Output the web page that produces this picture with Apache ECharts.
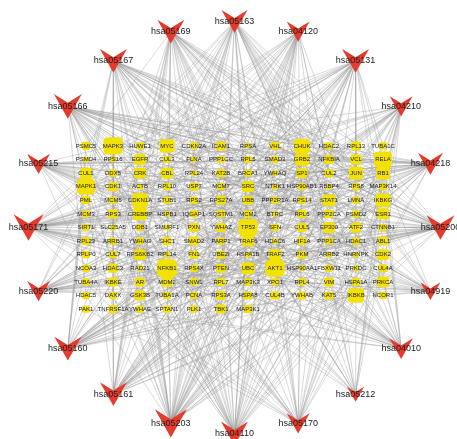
<!DOCTYPE html>
<html>
<head>
<meta charset="utf-8">
<script src="https://cdn.jsdelivr.net/npm/echarts@6/dist/echarts.min.js"></script>
<style>
  html, body { margin: 0; padding: 0; background: #ffffff; }
  #chart { width: 457px; height: 439px; }
</style>
</head>
<body>
<div id="chart"></div>
<script>
// Hub genes, laid out row by row in the central block
const geneRows = [
  ['PSMC5','MAPK3','HUWE1','MYC','CDKN2A','ICAM1','RPSA','VHL','CHUK','HDAC2','RPL13','TUBA1C'],
  ['PSMD4','RPS16','EGFR','CUL3','FLNA','PPP1CC','RPL5','SMAD3','GRB2','NFKBIA','VCL','RELA'],
  ['CUL1','DDX5','CRK','CBL','RPL24','KAT2B','BRCA1','YWHAQ','SP1','CUL2','JUN','RB1'],
  ['MAPK1','CDK1','ACTB','RPL10','USP7','MCM7','SRC','NTRK1','HSP90AB1','RBBP4','RPS8','MAP3K14'],
  ['PML','MCM5','CDKN1A','STUB1','RPS2','RPS27A','UBB','PPP2R1A','RPS14','STAT1','LMNA','IKBKG'],
  ['MCM3','RPS3','CREBBP','HSPB1','IQGAP1','SQSTM1','MCM2','BTRC','RPL6','PPP2CA','PSMD2','ESR1'],
  ['SIRT1','SLC25A5','DDB1','SMURF1','PXN','YWHAZ','TP53','SFN','CUL5','EP300','ATF2','CTNNB1'],
  ['RPL23','ARRB1','YWHAG','SHC1','SMAD2','PARP1','TRAF6','HDAC6','HIF1A','PPP1CA','HDAC1','ABL1'],
  ['RPLP0','CUL7','RPS6KB2','RPL14','FN1','UBE2I','HSPA1B','TRAF2','PKM','ARRB2','HNRNPK','CDK2'],
  ['NCOA3','HDAC3','RAD21','NFKB1','RPS4X','PTEN','UBC','AKT1','HSP90AA1','FBXW11','PRKDC','CUL4A'],
  ['TUBA4A','IKBKE','AR','MDM2','SNW1','RPL7','MAP3K3','XPO1','RPL4','VIM','HSPA1A','PRKCA'],
  ['HDAC5','DAXX','GSK3B','TUBA1A','PCNA','RPS3A','HSPA8','CUL4B','YWHAB','KAT5','IKBKB','NCOR1'],
  ['PAK1','TNFRSF1A','YWHAE','SPTAN1','PLK1','TBK1','MAP3K1']
];

// Interaction degree of each hub gene (same order as geneRows)
const geneDegree = [
  [10,30,8,22,8,12,4,10,24,8,12,8],
  [4,4,16,8,4,8,8,8,20,12,14,28],
  [16,8,16,16,4,10,8,4,14,10,20,20],
  [28,12,4,8,10,8,16,4,8,4,8,8],
  [10,8,24,8,8,12,12,8,8,18,8,22],
  [8,12,20,4,8,8,8,4,10,10,8,16],
  [8,4,8,4,12,12,30,8,12,16,14,8],
  [10,8,8,10,12,8,16,4,10,8,8,12],
  [8,8,16,4,10,10,4,16,10,4,4,16],
  [8,12,4,32,8,12,18,30,4,8,4,10],
  [8,12,12,14,8,10,8,8,8,12,10,16],
  [8,8,14,8,8,12,10,10,10,10,24,8],
  [8,10,8,8,8,12,10]
];

// KEGG pathways, clockwise from the top of the ring
const pathwayIds = ['hsa05163','hsa04120','hsa05131','hsa04210','hsa04218','hsa05200','hsa04919',
  'hsa04010','hsa05212','hsa05170','hsa04110','hsa05203','hsa05161','hsa05160','hsa05220',
  'hsa05171','hsa05215','hsa05166','hsa05167','hsa05169'];

// Member genes of each pathway
const hsa05163 = ['MAPK1','MAPK3','RELA','NFKB1','NFKBIA','CHUK','IKBKB','IKBKG','TP53','MDM2','CDKN2A','CDKN1A','RB1','CDK1','CDK2','AKT1','GSK3B','CTNNB1','SRC','PXN','PTEN','CREBBP','EP300','TRAF2','TRAF6','TNFRSF1A','PRKCA','MYC','ATF2','JUN','SP1','STAT1','GRB2','SHC1','CRK','TBK1'];
const hsa04120 = ['CUL1','CUL2','CUL3','CUL4A','CUL4B','CUL5','CUL7','VHL','MDM2','HUWE1','BTRC','FBXW11','DDB1','SMURF1','STUB1','UBE2I','CBL','PML','TRAF6','BRCA1','UBB','UBC','RPS27A','TP53','SMAD2','SMAD3','IKBKB','CDK1','PCNA','SQSTM1'];
const hsa05131 = ['ACTB','CRK','CBL','SRC','ABL1','VCL','PXN','IQGAP1','RELA','NFKB1','NFKBIA','CHUK','IKBKB','IKBKG','TRAF2','TRAF6','MAPK1','MAPK3','JUN','TNFRSF1A','UBB','UBC','RPS27A','BTRC','FBXW11','CUL1','TBK1','IKBKE','FLNA','TUBA1A','TUBA1C','TUBA4A','PKM','ATF2','MAP3K3','HSP90AA1','HSP90AB1','CDK1'];
const hsa04210 = ['TP53','AKT1','RELA','NFKB1','NFKBIA','CHUK','IKBKB','IKBKG','TRAF2','TNFRSF1A','MAPK1','MAPK3','JUN','PARP1','TUBA1A','TUBA1C','TUBA4A','ACTB','SPTAN1','MAP3K14','ATF2','LMNA','CDK1','PTEN','PRKCA','MAP3K1','DAXX','CTNNB1','HSPA1A','XPO1'];
const hsa04218 = ['TP53','MDM2','CDKN2A','CDKN1A','CDK1','CDK2','RB1','MYC','MAPK1','MAPK3','RELA','NFKB1','NFKBIA','CHUK','IKBKB','IKBKG','SIRT1','PML','SMAD2','SMAD3','PTEN','AKT1','PPP1CA','PPP1CC','PPP2CA','PPP2R1A','HDAC1','HDAC2','RBBP4','MAP3K1','SP1','CREBBP','EP300','ESR1'];
const hsa05200 = ['MAPK1','MAPK3','AKT1','GSK3B','CTNNB1','TP53','MDM2','CDKN2A','CDKN1A','CDK2','RB1','MYC','JUN','EGFR','GRB2','RELA','NFKB1','NFKBIA','CHUK','IKBKB','IKBKG','TRAF2','TRAF6','TNFRSF1A','STAT1','HIF1A','VHL','CUL2','SMAD2','SMAD3','CREBBP','EP300','HDAC1','HDAC2','PTEN','PRKCA','HSP90AA1','AR','FN1','ABL1'];
const hsa04919 = ['MAPK1','MAPK3','AKT1','CTNNB1','GSK3B','HDAC1','HDAC2','HDAC3','NCOA3','NCOR1','CREBBP','EP300','MYC','TP53','MDM2','SRC','PRKCA','HIF1A','ESR1','KAT2B','PLK1','STAT1','RB1','PTEN'];
const hsa04010 = ['MAPK1','MAPK3','MAP3K1','MAP3K3','MAP3K14','GRB2','EGFR','JUN','ATF2','MYC','RELA','NFKB1','CHUK','IKBKB','IKBKG','TRAF2','TRAF6','TNFRSF1A','PRKCA','AKT1','PAK1','CRK','FLNA','HSPB1','HSPA1A','HSPA1B','HSPA8','ARRB1','ARRB2','NTRK1','TP53'];
const hsa05212 = ['MAPK1','MAPK3','AKT1','TP53','CDKN2A','RB1','RELA','NFKB1','CHUK','IKBKB','IKBKG','EGFR','SMAD2','SMAD3','STAT1','BRCA1','CDK2','GRB2'];
const hsa05170 = ['RELA','NFKB1','NFKBIA','CHUK','IKBKB','IKBKG','TBK1','IKBKE','MAPK1','MAPK3','JUN','PRKCA','TNFRSF1A','TRAF2','TRAF6','CUL5','DDB1','CUL4A','CUL4B','BTRC','FBXW11','AKT1','PAK1','MAP3K1','CDK1','CUL1','TUBA1A','TUBA4A','TUBA1C','MAP3K14'];
const hsa04110 = ['CDK1','CDK2','CDKN2A','CDKN1A','RB1','TP53','MDM2','MYC','MCM2','MCM3','MCM5','MCM7','PCNA','HDAC1','HDAC2','YWHAB','YWHAE','YWHAG','YWHAQ','YWHAZ','SFN','CUL1','PLK1','GSK3B','SMAD2','SMAD3','CREBBP','EP300','PRKDC','ABL1','RAD21','BTRC','FBXW11','RBBP4','SP1','CHUK','UBB','CUL4A'];
const hsa05203 = ['HDAC1','HDAC2','HDAC3','HDAC5','CREBBP','EP300','YWHAB','YWHAE','YWHAG','YWHAQ','YWHAZ','SFN','RELA','NFKB1','NFKBIA','CHUK','IKBKB','IKBKG','MAP3K14','TRAF2','TRAF6','TP53','MDM2','CDKN2A','CDKN1A','CDK1','CDK2','RB1','PCNA','SRC','PXN','GRB2','MAPK1','MAPK3','JUN','ATF2','SP1','UBB','UBC','RPS27A','DDB1','CUL4A','PKM','KAT2B','SNW1','KAT5','DAXX','ACTB'];
const hsa05161 = ['RELA','NFKB1','NFKBIA','CHUK','IKBKB','IKBKG','TBK1','IKBKE','TRAF2','TRAF6','TNFRSF1A','MAPK1','MAPK3','JUN','ATF2','STAT1','TP53','CDKN1A','CDK2','RB1','MYC','AKT1','PRKCA','SRC','PTEN','CREBBP','EP300','YWHAB','YWHAE','YWHAG','YWHAQ','YWHAZ','SFN','DDB1','MAP3K1','GRB2','SMAD3','PCNA'];
const hsa05160 = ['RELA','NFKB1','NFKBIA','CHUK','IKBKB','IKBKG','TBK1','IKBKE','TRAF2','TRAF6','TNFRSF1A','MAPK1','MAPK3','STAT1','TP53','CDKN1A','CDK2','RB1','AKT1','GSK3B','CTNNB1','YWHAB','YWHAE','YWHAG','YWHAQ','YWHAZ','SFN','EGFR','GRB2','PPP2CA','PPP2R1A','CUL1','PSMC5','PSMD4','PSMD2','PSMC4','ICAM1','MAP3K1'];
const hsa05220 = ['ABL1','GRB2','CRK','CBL','SHC1','MAPK1','MAPK3','AKT1','RELA','NFKB1','NFKBIA','CHUK','IKBKB','IKBKG','TP53','MDM2','CDKN1A','CDKN2A','RB1','MYC','HDAC1','HDAC2','SMAD3','CDK2','GSK3B','STAT1','PTEN','CTNNB1','PRKCA','HSP90AA1'];
const hsa05171 = ['RPSA','RPS16','RPL5','RPL24','RPL10','RPS8','RPS2','RPS27A','RPS14','RPS3','RPL6','RPL23','RPLP0','RPL14','RPS4X','RPL7','RPL4','RPS3A','RPL13','RELA','NFKB1','NFKBIA','CHUK','IKBKB','IKBKG','IKBKE','TBK1','TRAF6','TRAF2','MAPK1','MAPK3','JUN','STAT1','TNFRSF1A','UBB','UBC','MAP3K14','MAP3K1','PRKCA','HNRNPK','SLC25A5','DDX5','AKT1','EGFR'];
const hsa05215 = ['MAPK1','MAPK3','AKT1','GSK3B','CTNNB1','PTEN','TP53','MDM2','CDKN1A','RB1','CREBBP','EP300','RELA','NFKB1','NFKBIA','CHUK','IKBKB','IKBKG','HSP90AA1','HSP90AB1','AR','NCOA3','EGFR','GRB2','CDK2','SRC','NCOR1','HDAC1','ESR1','PRKCA'];
const hsa05166 = ['RELA','NFKB1','NFKBIA','CHUK','IKBKB','IKBKG','MAP3K14','MAP3K3','MAP3K1','TP53','CDKN2A','CDKN1A','CDK2','RB1','MYC','JUN','ATF2','CREBBP','EP300','HDAC1','HDAC2','HDAC3','HDAC5','MAPK1','MAPK3','PCNA','SP1','ICAM1','TNFRSF1A','TRAF2','AKT1','GSK3B','CTNNB1','SMAD3','SMAD2','CRK','PLK1','TBK1','CDK1','NCOR1'];
const hsa05167 = ['RELA','NFKB1','NFKBIA','CHUK','IKBKB','IKBKG','MAPK1','MAPK3','JUN','MYC','TP53','CDKN1A','RB1','CREBBP','EP300','STAT1','ICAM1','TRAF2','TRAF6','TNFRSF1A','AKT1','GSK3B','CTNNB1','SRC','PRKCA','MAP3K1','HIF1A','GRB2','SHC1','TBK1','IKBKE','CUL1','HDAC1','HDAC2','PML','DAXX','CDK2','MAP3K3'];
const hsa05169 = ['RELA','NFKB1','NFKBIA','CHUK','IKBKB','IKBKG','IKBKE','TBK1','TRAF6','TRAF2','MAP3K14','MAP3K3','TP53','MDM2','CDKN2A','CDKN1A','CDK2','RB1','MYC','JUN','ATF2','SP1','CREBBP','EP300','HDAC1','HDAC2','HDAC3','HDAC5','YWHAB','YWHAE','YWHAG','YWHAQ','YWHAZ','SFN','PSMD2','PSMC5','SNW1','ICAM1'];

const pathwayMembers = [hsa05163, hsa04120, hsa05131, hsa04210, hsa04218, hsa05200, hsa04919,
  hsa04010, hsa05212, hsa05170, hsa04110, hsa05203, hsa05161, hsa05160, hsa05220,
  hsa05171, hsa05215, hsa05166, hsa05167, hsa05169];

// Layout: a block of gene cells in the middle, pathways on a ring around it
const COL_STEP = 27;
const ROW_STEP = 13.6;
const RING_R = 206;
const GENE_FONT = { fontSize: 6, color: '#222', fontFamily: 'Liberation Sans, Arial, sans-serif' };
const PATH_FONT = { fontSize: 9, color: '#222', fontFamily: 'Liberation Sans, Arial, sans-serif' };
const V_SHAPE = 'path://M0,0L13,8L26,0L13,23Z';

const nodes = [];
geneRows.forEach((row, r) => {
  row.forEach((gene, c) => {
    const side = 4 + geneDegree[r][c] / 2;
    nodes.push({
      name: gene,
      value: [(c - 5.5) * COL_STEP, (r - 6) * ROW_STEP],
      symbol: 'roundRect',
      symbolSize: [side, side * 0.9],
      itemStyle: { color: '#f3e100' },
      label: Object.assign({ show: true, position: 'inside' }, GENE_FONT)
    });
  });
});

pathwayIds.forEach((id, k) => {
  const theta = k * 2 * Math.PI / pathwayIds.length;
  const w = 8 + pathwayMembers[k].length * 0.5;
  nodes.push({
    name: id,
    value: [RING_R * Math.sin(theta), -RING_R * Math.cos(theta)],
    symbol: V_SHAPE,
    symbolSize: [w, w * 0.88],
    itemStyle: { color: '#e63a2c' },
    label: Object.assign({ show: true, position: 'inside' }, PATH_FONT)
  });
});

const links = [];
pathwayIds.forEach((id, k) => {
  pathwayMembers[k].forEach(gene => links.push({ source: id, target: gene }));
});

const chart = echarts.init(document.getElementById('chart'));
chart.setOption({
  animation: false,
  backgroundColor: '#ffffff',
  grid: { left: 0, right: 0, top: 0, bottom: 0 },
  xAxis: { type: 'value', min: -234.5, max: 222.5, show: false },
  yAxis: { type: 'value', min: -227.5, max: 211.5, inverse: true, show: false },
  series: [{
    type: 'graph',
    layout: 'none',
    coordinateSystem: 'cartesian2d',
    roam: false,
    silent: true,
    data: nodes,
    links: links,
    lineStyle: { color: '#9a9a9a', width: 0.5, opacity: 0.75, curveness: 0 },
    emphasis: { disabled: true }
  }]
});
</script>
</body>
</html>
